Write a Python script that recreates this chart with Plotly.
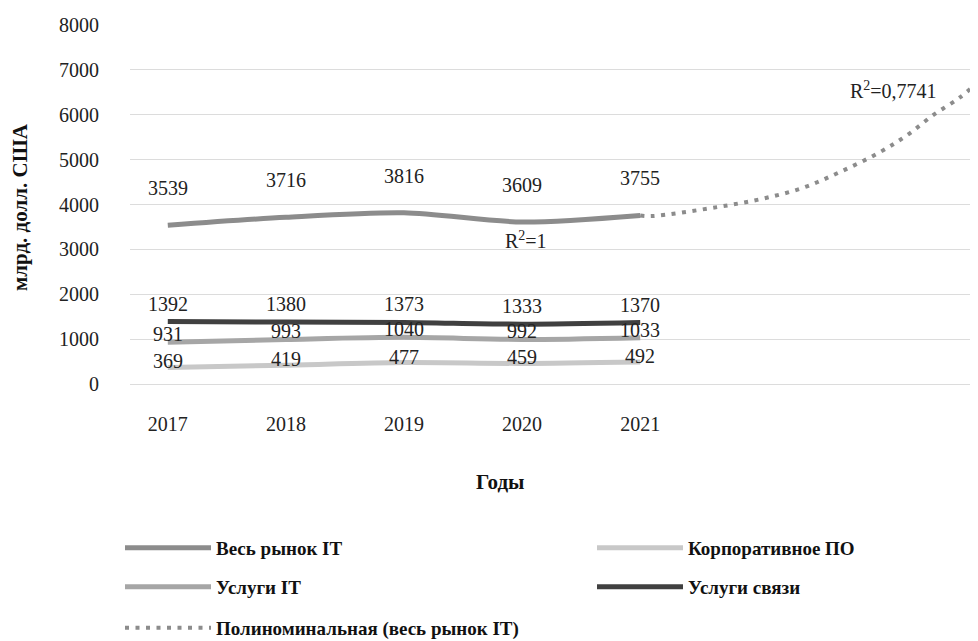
import plotly.graph_objects as go

years = [2017, 2018, 2019, 2020, 2021]
year_labels = ["2017", "2018", "2019", "2020", "2021"]
whole_market = [3539, 3716, 3816, 3609, 3755]
corp_software = [369, 419, 477, 459, 492]
it_services = [931, 993, 1040, 992, 1033]
telecom = [1392, 1380, 1373, 1333, 1370]

# polynomial trend, forward part
trend_x = [2021.0, 2021.10, 2021.65, 2022.02, 2022.37, 2022.69, 2023.03, 2023.26, 2023.48, 2023.71, 2023.86]
trend_y = [3755, 3742, 3942, 4120, 4365, 4722, 5167, 5546, 5991, 6392, 6726]

y_ticks = [0, 1000, 2000, 3000, 4000, 5000, 6000, 7000, 8000]

FONT = "Liberation Serif"

# the page body adds an 8px margin; the figure is sized/placed to compensate
OFF = 8
W, H = 978 - OFF, 641 - OFF
L, R, T = 130 - OFF, 0, 25 - OFF
B = H - (384 - OFF)
pw, ph = W - L - R, H - T - B

def px_x(px):  # page pixel -> x domain fraction
    return (px - OFF - L) / pw

def px_y(py):  # page pixel -> y domain fraction
    return (H - B - (py - OFF)) / ph

# name, values, colour, legend id, label shift
series = [
    ("Весь рынок IT", whole_market, "#8c8c8c", "legend", 37),
    ("Корпоративное ПО", corp_software, "#c8c8c8", "legend2", 6),
    ("Услуги IT", it_services, "#a6a6a6", "legend3", 8),
    ("Услуги связи", telecom, "#404040", "legend4", 18),
]

fig = go.Figure()
annotations = []
for name, vals, color, lg, shift in series:
    fig.add_trace(go.Scatter(
        x=years, y=vals, name=name, mode="lines",
        line=dict(color=color, width=5, shape="spline", smoothing=0.8),
        legend=lg, hoverinfo="skip"))
    for xv, yv in zip(years, vals):
        annotations.append(dict(x=xv, y=yv, xref="x", yref="y", text=str(yv),
                                showarrow=False, yshift=shift,
                                xanchor="center", yanchor="middle",
                                font=dict(family=FONT, size=20, color="#222222")))

fig.add_trace(go.Scatter(
    x=trend_x, y=trend_y, name="Полиноминальная (весь рынок IT)", mode="lines",
    line=dict(color="#8c8c8c", width=4, dash="4px,6.5px", shape="spline"),
    legend="legend5", hoverinfo="skip"))

annotations += [
    dict(x=2020.03, y=3609, xref="x", yref="y", text="R<sup>2</sup>=1", showarrow=False,
         yshift=-18, xanchor="center", yanchor="middle",
         font=dict(family=FONT, size=20, color="#222222")),
    dict(x=px_x(893), y=px_y(90), xref="x domain", yref="y domain", text="R<sup>2</sup>=0,7741",
         showarrow=False, xanchor="center", yanchor="middle",
         font=dict(family=FONT, size=20, color="#222222")),
    dict(x=px_x(500), y=px_y(482), xref="x domain", yref="y domain", text="<b>Годы</b>",
         showarrow=False, xanchor="center", yanchor="middle",
         font=dict(family=FONT, size=21, color="#111111")),
    dict(x=px_x(20), y=px_y(207), xref="x domain", yref="y domain",
         text="<b>млрд. долл. США</b>", textangle=-90, showarrow=False,
         xanchor="center", yanchor="middle",
         font=dict(family=FONT, size=21, color="#111111")),
]

leg_common = dict(orientation="v", xanchor="left", yanchor="middle", itemwidth=86,
                  font=dict(family=FONT, size=19, color="#111111", weight="bold"),
                  bgcolor="rgba(0,0,0,0)")

col1, col2 = px_x(120), px_x(592)

fig.update_layout(
    width=W, height=H,
    margin=dict(l=L, r=R, t=T, b=B, autoexpand=False),
    paper_bgcolor="white", plot_bgcolor="white",
    font=dict(family=FONT, size=20, color="#222222"),
    showlegend=True,
    xaxis=dict(range=[2016.68, 2023.86], tickvals=years, ticktext=year_labels,
               showgrid=False, zeroline=False, showline=False, ticks="",
               ticklabelstandoff=26, tickfont=dict(family=FONT, size=20, color="#222222")),
    yaxis=dict(range=[0, 8000], tickvals=y_ticks, showgrid=True, gridcolor="#dcdcdc",
               gridwidth=1, zeroline=True, zerolinecolor="#dcdcdc", zerolinewidth=1,
               showline=False, ticks="", ticklabelstandoff=30,
               tickfont=dict(family=FONT, size=20, color="#222222")),
    legend=dict(x=col1, y=px_y(548), **leg_common),
    legend2=dict(x=col2, y=px_y(548), **leg_common),
    legend3=dict(x=col1, y=px_y(587), **leg_common),
    legend4=dict(x=col2, y=px_y(587), **leg_common),
    legend5=dict(x=col1, y=px_y(628), **leg_common),
    annotations=annotations,
)

fig.write_html("out.html")
